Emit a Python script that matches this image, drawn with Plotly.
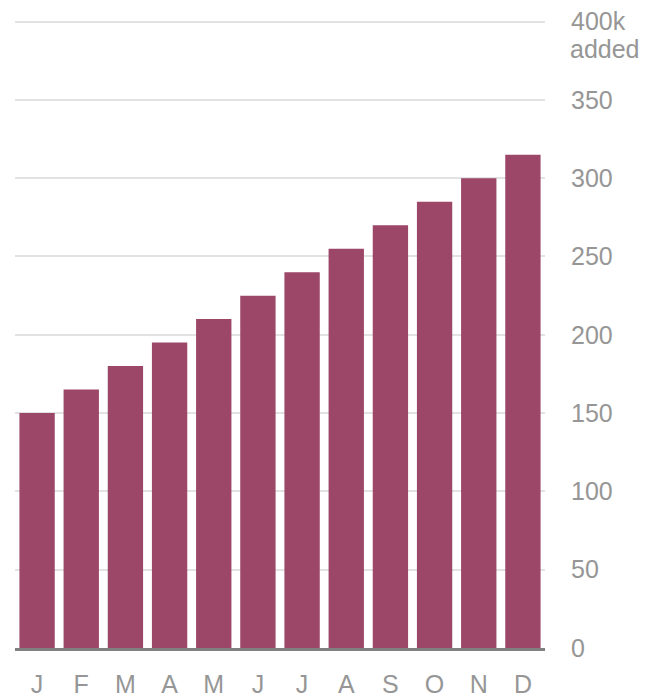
import plotly.graph_objects as go

months = ["J", "F", "M", "A", "M", "J", "J", "A", "S", "O", "N", "D"]
added = [150, 165, 180, 195, 210, 225, 240, 255, 270, 285, 300, 315]
ytick_vals = [0, 50, 100, 150, 200, 250, 300, 350, 400]
ytick_text = ["0", "50", "100", "150", "200", "250", "300", "350", "400k"]

# months repeat, so plot on positions and label with tick text
pos = list(range(len(months)))

fig = go.Figure()
fig.add_trace(go.Bar(x=pos, y=added, marker_color="#9c4668",
                     marker_line_width=0, hoverinfo="y"))

# page body has an 8px margin, so the figure is a bit smaller than the window
fig.update_layout(
    width=640, height=689,
    margin=dict(l=7, r=103, t=12, b=49),
    plot_bgcolor="white", paper_bgcolor="white",
    bargap=0.2, showlegend=False,
    font=dict(family="Liberation Sans, Arial, sans-serif", color="#969696", size=25),
)
fig.update_xaxes(
    tickvals=pos, ticktext=months, range=[-0.5, len(months) - 0.5],
    showgrid=False, zeroline=False, automargin=False,
    showline=True, linecolor="#808080", linewidth=3,
    ticks="outside", ticklen=12, tickcolor="rgba(0,0,0,0)",
    ticklabeloverflow="allow",
)
fig.update_yaxes(
    side="right", range=[0, 401],
    tickvals=ytick_vals, ticktext=ytick_text,
    showgrid=True, gridcolor="#e2e2e2", gridwidth=1.5,
    zeroline=False, showline=False, automargin=False,
    ticks="outside", ticklen=20, tickcolor="rgba(0,0,0,0)",
    ticklabeloverflow="allow",
)
fig.add_annotation(text="added", xref="paper", yref="y", x=1, y=400,
                   xanchor="left", yanchor="top", xshift=23, yshift=-11,
                   showarrow=False, font=dict(size=25, color="#969696"))

fig.write_html("out.html")
